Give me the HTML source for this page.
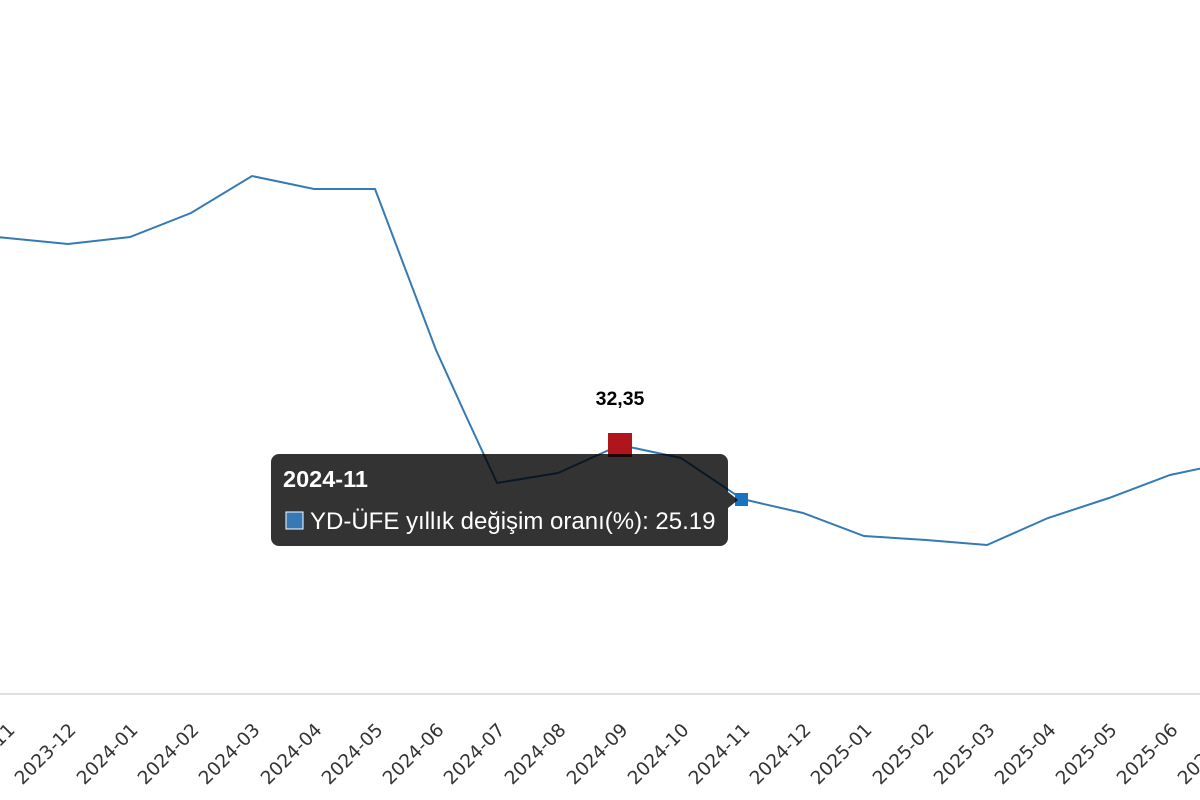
<!DOCTYPE html>
<html><head><meta charset="utf-8"><style>
body{margin:0;background:#fff;width:1200px;height:800px;overflow:hidden;font-family:"Liberation Sans","DejaVu Sans",sans-serif;}
</style></head><body>
<svg width="1200" height="800" xmlns="http://www.w3.org/2000/svg" style="position:absolute;left:0;top:0">
<line x1="0" y1="694" x2="1200" y2="694" stroke="#e0e0e0" stroke-width="2"/>
<polyline fill="none" stroke="#337ab7" stroke-width="2" points="-54,232 7,238 68,244 130,237 191,213 252,176 314,189 375,189 436,350 466,416 497,483 558,473 620,445 681,458 742,499 803,513 864,536 926,540 987,545 1048,518 1109,498 1170,475 1231,462"/>
<g font-family="'DejaVu Sans','Liberation Sans',sans-serif" font-size="18.5" fill="#333" text-anchor="end">
<text transform="translate(16,731) rotate(-45)">2023-11</text>
<text transform="translate(77,731) rotate(-45)">2023-12</text>
<text transform="translate(139,731) rotate(-45)">2024-01</text>
<text transform="translate(200,731) rotate(-45)">2024-02</text>
<text transform="translate(261,731) rotate(-45)">2024-03</text>
<text transform="translate(323,731) rotate(-45)">2024-04</text>
<text transform="translate(384,731) rotate(-45)">2024-05</text>
<text transform="translate(445,731) rotate(-45)">2024-06</text>
<text transform="translate(506,731) rotate(-45)">2024-07</text>
<text transform="translate(567,731) rotate(-45)">2024-08</text>
<text transform="translate(629,731) rotate(-45)">2024-09</text>
<text transform="translate(690,731) rotate(-45)">2024-10</text>
<text transform="translate(751,731) rotate(-45)">2024-11</text>
<text transform="translate(812,731) rotate(-45)">2024-12</text>
<text transform="translate(873,731) rotate(-45)">2025-01</text>
<text transform="translate(935,731) rotate(-45)">2025-02</text>
<text transform="translate(996,731) rotate(-45)">2025-03</text>
<text transform="translate(1057,731) rotate(-45)">2025-04</text>
<text transform="translate(1118,731) rotate(-45)">2025-05</text>
<text transform="translate(1179,731) rotate(-45)">2025-06</text>
<text transform="translate(1240,731) rotate(-45)">2025-07</text>
</g>
<rect x="608" y="433" width="24" height="24" fill="#b0141c"/>
<text x="620" y="405" text-anchor="middle" font-size="19.5" font-weight="bold" fill="#000">32,35</text>
<rect x="735" y="493" width="13" height="13" fill="#1a73c0"/>
<g>
<rect x="271" y="454" width="457" height="92" rx="8" fill="rgba(0,0,0,0.8)"/>
<polygon points="728,492 738,500 728,508" fill="rgba(0,0,0,0.8)"/>
<text x="283" y="487" font-size="23.5" font-weight="bold" fill="#fff">2024-11</text>
<rect x="286" y="512" width="17" height="17" fill="#337ab7" stroke="#fff" stroke-width="1"/>
<text x="310" y="529" font-size="24" fill="#fff">YD-ÜFE yıllık değişim oranı(%): 25.19</text>
</g>
</svg>
</body></html>
